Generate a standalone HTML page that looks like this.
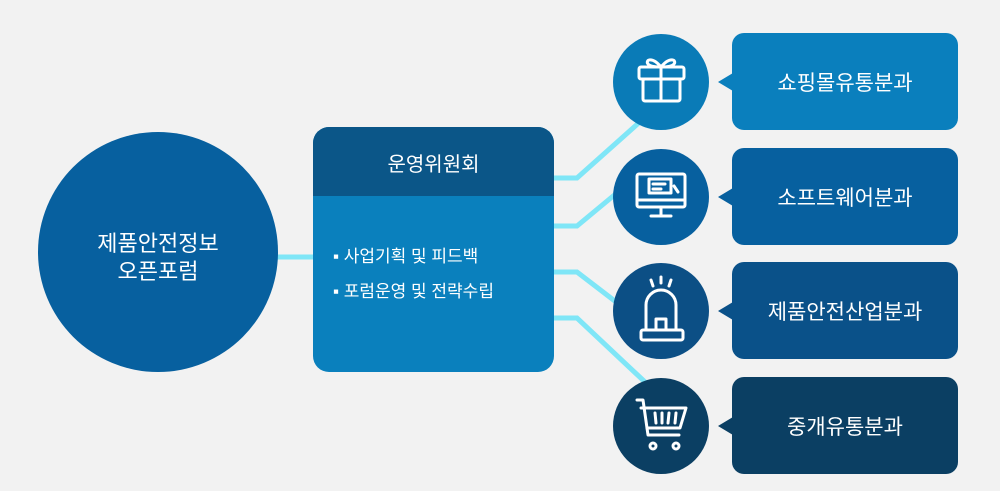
<!DOCTYPE html>
<html><head><meta charset="utf-8"><style>
html,body{margin:0;padding:0;background:#f2f2f2;}
body{width:1000px;height:491px;position:relative;overflow:hidden;font-family:"Liberation Sans","Noto Sans CJK KR",sans-serif;}
.t{position:absolute;color:#fff;white-space:nowrap;}
</style></head><body>
<svg width="1000" height="491" style="position:absolute;left:0;top:0">
<g stroke="#7fe6f7" stroke-width="5" fill="none">
<line x1="270" y1="257" x2="320" y2="257"/>
<polyline points="550,178 577,178 642,120"/>
<polyline points="550,226 577,226 618,192"/>
<polyline points="550,272 577,272 620,305"/>
<polyline points="550,318 577,318 645,382"/>
</g>
<circle cx="158" cy="252" r="120" fill="#07609f"/>
<rect x="313" y="127" width="241" height="245" rx="16" fill="#0a80bd"/>
<path d="M313,196 V143 a16,16 0 0 1 16,-16 H538 a16,16 0 0 1 16,16 V196 Z" fill="#0b5688"/>
<circle cx="661" cy="82" r="48" fill="#0a7bb7"/>
<circle cx="661" cy="197" r="48" fill="#07609f"/>
<circle cx="661" cy="311" r="48" fill="#0c4f85"/>
<circle cx="661" cy="426" r="48" fill="#0b3f63"/>
<rect x="732" y="33" width="226" height="97" rx="12" fill="#0a7fbd"/>
<polygon points="718,82 733,73 733,91" fill="#0a7fbd"/>
<rect x="732" y="148" width="226" height="97" rx="12" fill="#07609f"/>
<polygon points="718,197 733,188 733,206" fill="#07609f"/>
<rect x="732" y="262" width="226" height="97" rx="12" fill="#0a5189"/>
<polygon points="718,311 733,302 733,320" fill="#0a5189"/>
<rect x="732" y="377" width="226" height="97" rx="12" fill="#0b3f63"/>
<polygon points="718,426 733,417 733,435" fill="#0b3f63"/>
<g stroke="#fff" stroke-width="3" fill="none" stroke-linejoin="round" stroke-linecap="round">
<rect x="639" y="67" width="45" height="12" rx="2"/>
<rect x="643" y="79" width="37" height="22" rx="2"/>
<line x1="661" y1="67" x2="661" y2="101"/>
<path d="M661,67 C652,56 645,60 648,64 C650,67 656,67 661,67 C666,67 672,67 674,64 C677,60 670,56 661,67"/>
<rect x="637" y="174" width="48" height="33" rx="2"/>
<line x1="637" y1="200" x2="685" y2="200"/>
<line x1="661" y1="207" x2="661" y2="215"/>
<line x1="651" y1="216" x2="671" y2="216"/>
<rect x="649" y="179" width="22" height="14"/>
<line x1="653" y1="184" x2="665" y2="184"/>
<line x1="653" y1="189" x2="661" y2="189"/>
<line x1="674" y1="186" x2="678" y2="192"/>
<path d="M646,330 V305 a15,15 0 0 1 30,0 V330"/>
<rect x="641" y="330" width="42" height="10" rx="2"/>
<rect x="656" y="319" width="10" height="11"/>
<line x1="661" y1="277" x2="661" y2="283"/>
<line x1="651" y1="280" x2="653" y2="286"/>
<line x1="671" y1="280" x2="669" y2="286"/>
<path d="M637,400 H643 L648,435 H679"/>
<path d="M641,408 H686 L680,428 H647"/>
<line x1="655" y1="413" x2="656" y2="423"/>
<line x1="662" y1="413" x2="662" y2="423"/>
<line x1="669" y1="413" x2="668" y2="423"/>
<line x1="676" y1="413" x2="675" y2="423"/>
<circle cx="653" cy="446" r="3"/>
<circle cx="676" cy="446" r="3"/>
</g>
</svg>
<div class="t" style="left:38px;width:240px;top:230px;text-align:center;font-size:22px;line-height:28px;">제품안전정보<br>오픈포럼</div>
<div class="t" style="left:313px;width:241px;top:148px;text-align:center;font-size:20px;">운영위원회</div>
<div class="t" style="left:333px;top:242px;font-size:17px;">▪ 사업기획 및 피드백</div>
<div class="t" style="left:333px;top:277px;font-size:17px;">▪ 포럼운영 및 전략수립</div>
<div class="t" style="left:732px;width:226px;top:67px;text-align:center;font-size:21px;">쇼핑몰유통분과</div>
<div class="t" style="left:732px;width:226px;top:182px;text-align:center;font-size:21px;">소프트웨어분과</div>
<div class="t" style="left:732px;width:226px;top:296px;text-align:center;font-size:21px;">제품안전산업분과</div>
<div class="t" style="left:732px;width:226px;top:411px;text-align:center;font-size:21px;">중개유통분과</div>
</body></html>
